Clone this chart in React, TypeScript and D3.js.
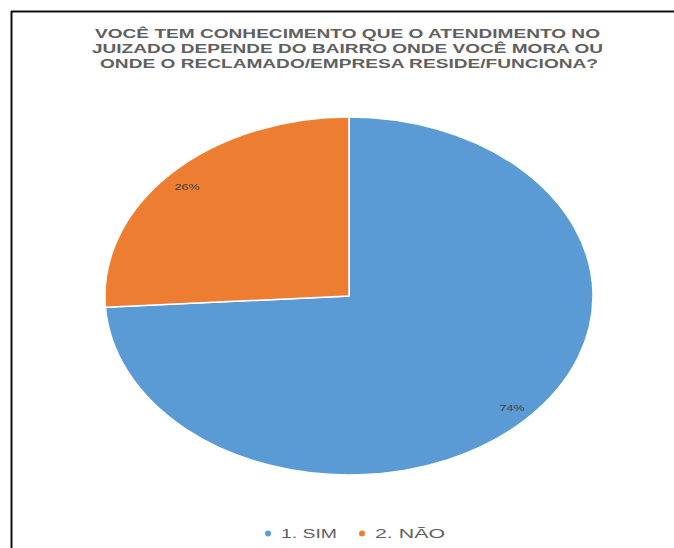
import React from "react";
import * as d3 from "d3";

const categories = ["1. SIM", "2. NÃO"];
const values = [74, 26];
const labels = ["74%", "26%"];
const colors = ["#5b9bd5", "#ed7d31"];
const titleLines = [
  "VOCÊ TEM CONHECIMENTO QUE O ATENDIMENTO NO",
  "JUIZADO DEPENDE DO BAIRRO ONDE VOCÊ MORA OU",
  "ONDE O RECLAMADO/EMPRESA RESIDE/FUNCIONA?",
];

export default function App() {
  const W = 674, H = 548;
  const cx = 349, cy = 296, rx = 244, ry = 179;
  const pie = d3.pie<number>().sort(null).value((d) => d);
  const arcs = pie(values);
  const arc = d3.arc<d3.PieArcDatum<number>>().innerRadius(0).outerRadius(1);
  const labelPos = [
    [512, 411],
    [187, 190],
  ];
  const titleSpans = [
    [95, 505],
    [92, 511],
    [100, 498],
  ];
  const legendX = [268, 362];
  const legendW = [56, 70];
  return (
    <svg width={W} height={H} style={{ position: "absolute", left: 0, top: 0, background: "#fff" }}>
      <rect x={0} y={0} width={W} height={H} fill="#fff" />
      <line x1={11} y1={11.5} x2={W} y2={11.5} stroke="#111" strokeWidth={2} />
      <line x1={11.5} y1={11} x2={11.5} y2={H} stroke="#111" strokeWidth={2} />
      <g fontFamily="Liberation Sans, Arial, sans-serif" fontWeight="bold" fontSize={12.5} fill="#606060">
        {titleLines.map((t, i) => (
          <text key={i} x={titleSpans[i][0]} y={38 + i * 15} textLength={titleSpans[i][1]} lengthAdjust="spacingAndGlyphs">{t}</text>
        ))}
      </g>
      <g transform={`translate(${cx},${cy}) scale(${rx},${ry})`}>
        {arcs.map((a, i) => (
          <path key={i} d={arc(a) || ""} fill={colors[i]} stroke="#fff" strokeWidth={1.5} vectorEffect="non-scaling-stroke" />
        ))}
      </g>
      <g fontFamily="Liberation Sans, Arial, sans-serif" fontSize={9} fill="#404040" textAnchor="middle">
        {labels.map((l, i) => (
          <text key={i} x={labelPos[i][0]} y={labelPos[i][1]} textLength={25} lengthAdjust="spacingAndGlyphs">{l}</text>
        ))}
      </g>
      <g fontFamily="Liberation Sans, Arial, sans-serif" fontSize={13} fill="#606060">
        {categories.map((c, i) => (
          <g key={i} transform={`translate(${legendX[i]},538)`}>
            <circle cx={0} cy={-4.5} r={3} fill={colors[i]} />
            <text x={13} y={0} textLength={legendW[i]} lengthAdjust="spacingAndGlyphs">{c}</text>
          </g>
        ))}
      </g>
    </svg>
  );
}
